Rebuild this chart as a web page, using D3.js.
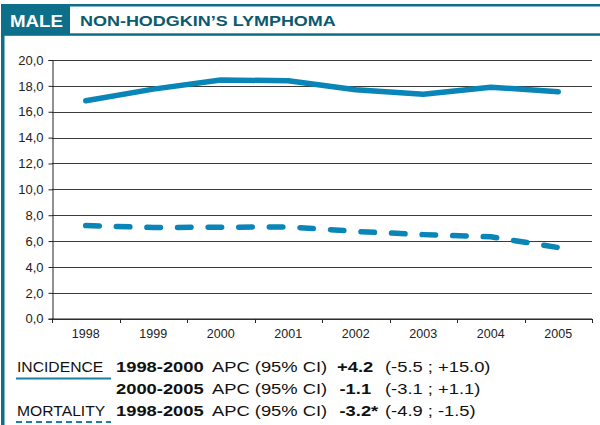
<!DOCTYPE html>
<html>
<head>
<meta charset="utf-8">
<script src="https://cdn.jsdelivr.net/npm/d3@7"></script>
<style>
  body { margin: 0; background: #fff; }
  svg { display: block; font-family: "Liberation Sans", Arial, sans-serif; }
</style>
</head>
<body>
<svg id="chart"></svg>
<script>
const width = 600;
const height = 425;

// données
const years = ["1998", "1999", "2000", "2001", "2002", "2003", "2004", "2005"];
const incidence = [16.85, 17.75, 18.45, 18.4, 17.7, 17.35, 17.9, 17.55];
const mortality = [7.2, 7.05, 7.07, 7.1, 6.75, 6.5, 6.33, 5.5];
const yTicks = [0, 2, 4, 6, 8, 10, 12, 14, 16, 18, 20];

const sexLabel = "MALE";
const title = "NON-HODGKIN\u2019S LYMPHOMA";
const legendNames = ["INCIDENCE", "", "MORTALITY"];
const legendPeriods = ["1998-2000", "2000-2005", "1998-2005"];
const legendApc = ["+4.2", "-1.1", "-3.2*"];
const legendCi = ["(-5.5 ; +15.0)", "(-3.1 ; +1.1)", "(-4.9 ; -1.5)"];

const teal = "#0d6f89";
const lineColor = "#0a85b7";

const svg = d3.select("#chart").attr("width", width).attr("height", height);

// cadre : ligne du haut, bord gauche, bandeau
svg.append("rect").attr("x", 1).attr("y", 4).attr("width", 599).attr("height", 2.5).attr("fill", teal);
svg.append("rect").attr("x", 1).attr("y", 4).attr("width", 3.5).attr("height", 421).attr("fill", teal);
svg.append("rect").attr("x", 1).attr("y", 4).attr("width", 69).attr("height", 30).attr("fill", teal);
svg.append("rect").attr("x", 1).attr("y", 33.3).attr("width", 599).attr("height", 2.5).attr("fill", teal);

svg.append("text")
    .attr("transform", "translate(10,26.5) scale(1.1,1)")
    .attr("fill", "white")
    .attr("font-weight", "bold")
    .attr("font-size", 17)
    .text(sexLabel);

svg.append("text")
    .attr("transform", "translate(80,26) scale(1.16,1)")
    .attr("fill", "#0c5a6e")
    .attr("font-weight", "bold")
    .attr("font-size", 15.5)
    .text(title);

// échelles
const x = d3.scaleBand().domain(years).range([52, 592]).paddingInner(0).paddingOuter(0);
const y = d3.scaleLinear().domain([0, 20]).range([318.7, 60]);
const cx = d => x(d) + x.bandwidth() / 2;

// grille
svg.append("g")
    .selectAll("line")
    .data(yTicks)
    .enter()
    .append("line")
    .attr("x1", 52)
    .attr("x2", 592)
    .attr("y1", d => Math.round(y(d)) + 0.5)
    .attr("y2", d => Math.round(y(d)) + 0.5)
    .attr("stroke", "#3a3a3a")
    .attr("stroke-width", 1);

// axe Y
const yAxis = svg.append("g")
    .attr("transform", "translate(52.5,0)")
    .call(d3.axisLeft(y)
        .tickValues(yTicks)
        .tickSize(4)
        .tickPadding(5)
        .tickFormat(d => d.toFixed(1).replace(".", ",")));
yAxis.select(".domain").attr("stroke", "#222");
yAxis.selectAll(".tick line").attr("stroke", "#222");
yAxis.selectAll("text").attr("font-size", 13).attr("fill", "#222").attr("font-family", "Liberation Sans, Arial, sans-serif");

// axe X : étiquettes au centre, graduations aux bornes
const xAxis = svg.append("g")
    .attr("transform", "translate(0,319)")
    .call(d3.axisBottom(x).tickSize(0).tickPadding(10));
xAxis.select(".domain").remove();
xAxis.selectAll("text").attr("font-size", 12.5).attr("fill", "#222").attr("font-family", "Liberation Sans, Arial, sans-serif");

svg.append("line")
    .attr("x1", 52).attr("x2", 592)
    .attr("y1", 319).attr("y2", 319)
    .attr("stroke", "#222");

svg.append("g")
    .selectAll("line")
    .data(years.concat(["end"]))
    .enter()
    .append("line")
    .attr("x1", (d, i) => Math.round(52 + i * x.bandwidth()) + 0.5)
    .attr("x2", (d, i) => Math.round(52 + i * x.bandwidth()) + 0.5)
    .attr("y1", 319)
    .attr("y2", 323)
    .attr("stroke", "#222");

// courbes
const line = d3.line()
    .x((d, i) => cx(years[i]))
    .y(d => y(d));

svg.append("path")
    .datum(incidence)
    .attr("d", line)
    .attr("fill", "none")
    .attr("stroke", lineColor)
    .attr("stroke-width", 5.5)
    .attr("stroke-linecap", "round")
    .attr("stroke-linejoin", "round");

svg.append("path")
    .datum(mortality)
    .attr("d", line)
    .attr("fill", "none")
    .attr("stroke", lineColor)
    .attr("stroke-width", 5.5)
    .attr("stroke-linecap", "round")
    .attr("stroke-linejoin", "round")
    .attr("stroke-dasharray", "13.5,17.1");

// légende
const rowsY = [372, 393.5, 415.5];

function addText(txt, xPos, yPos, size, bold, sx) {
    svg.append("text")
        .attr("transform", `translate(${xPos},${yPos}) scale(${sx},1)`)
        .attr("font-size", size)
        .attr("font-weight", bold ? "bold" : "normal")
        .attr("fill", "#111")
        .text(txt);
}

legendNames.forEach((name, i) => {
    if (name) addText(name, 17, rowsY[i], 14, false, 1.12);
    addText(legendPeriods[i], 116, rowsY[i], 15.3, true, 1.2);
    addText("APC (95% CI)", 212, rowsY[i], 15.3, false, 1.2);
    addText(legendApc[i], i === 0 ? 337 : 339.5, rowsY[i], 15.3, true, 1.2);
    addText(legendCi[i], 385, rowsY[i], 15.3, false, 1.2);
});

svg.append("line")
    .attr("x1", 16).attr("x2", 111)
    .attr("y1", 378.5).attr("y2", 378.5)
    .attr("stroke", "#1a7fa1")
    .attr("stroke-width", 2);

svg.append("line")
    .attr("x1", 16).attr("x2", 111)
    .attr("y1", 422).attr("y2", 422)
    .attr("stroke", "#1a7fa1")
    .attr("stroke-width", 2)
    .attr("stroke-dasharray", "6,4");
</script>
</body>
</html>
